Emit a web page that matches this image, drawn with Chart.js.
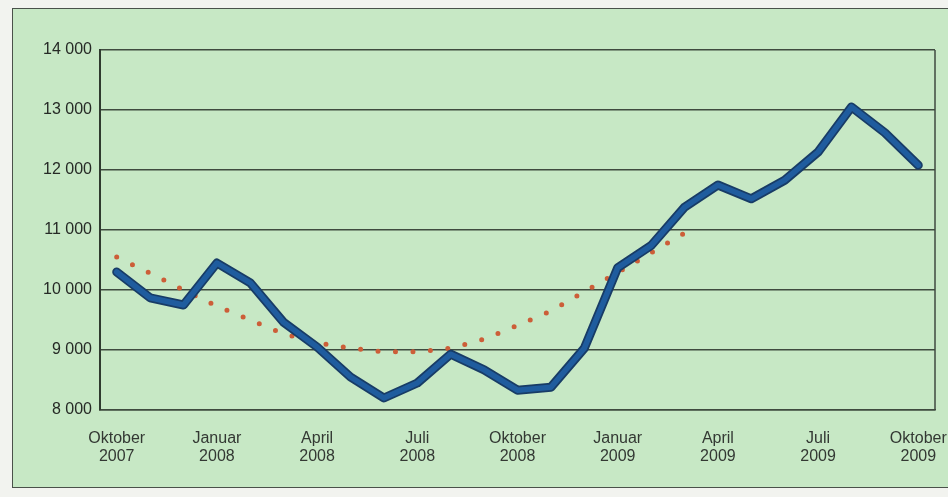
<!DOCTYPE html>
<html lang="de">
<head>
<meta charset="utf-8">
<title>Index</title>
<script src="https://cdn.jsdelivr.net/npm/chart.js@4"></script>
<style>
  html, body { margin: 0; padding: 0; width: 948px; height: 497px; overflow: hidden; background: #f2f3ef; }
  #kasten { position: absolute; left: 12px; top: 8px; width: 960px; height: 478px; background: #c7e8c5; border: 1.5px solid #4a514a; }
  #wrap { position: absolute; left: 0; top: 0; width: 948px; height: 497px; }
</style>
</head>
<body>
<div id="kasten"></div>
<div id="wrap"><canvas id="chart" width="948" height="497"></canvas></div>
<script>
// Monate Oktober 2007 bis Oktober 2009
const monate = ["Okt 07", "Nov 07", "Dez 07", "Jan 08", "Feb 08", "Mär 08", "Apr 08", "Mai 08", "Jun 08",
    "Jul 08", "Aug 08", "Sep 08", "Okt 08", "Nov 08", "Dez 08", "Jan 09", "Feb 09", "Mär 09", "Apr 09",
    "Mai 09", "Jun 09", "Jul 09", "Aug 09", "Sep 09", "Okt 09"];

const achsenLabels = [["Oktober", "2007"], ["Januar", "2008"], ["April", "2008"], ["Juli", "2008"],
    ["Oktober", "2008"], ["Januar", "2009"], ["April", "2009"], ["Juli", "2009"], ["Oktober", "2009"]];

const yTicks = [8000, 9000, 10000, 11000, 12000, 13000, 14000];

// blaue Linie
const werte = [10300, 9870, 9750, 10450, 10120, 9460, 9050, 8550, 8200, 8450, 8930, 8670, 8330,
    8380, 9030, 10370, 10740, 11380, 11750, 11520, 11830, 12300, 13050, 12620, 12080];

// rote Punktlinie
const trend = [10550, 10280, 10000, 9730, 9500, 9270, 9120, 9030, 8970, 8970, 9030, 9180, 9410,
    9650, 9970, 10290, 10620, 10950, null, null, null, null, null, null, null];

const fmt = (v) => String(v).replace(/\B(?=(\d{3})+(?!\d))/g, " ");

// rechte Rahmenlinie der Zeichenfläche
const rahmen = {
    id: "rahmen",
    beforeDatasetsDraw(c) {
        const a = c.chartArea, ctx = c.ctx;
        ctx.save();
        ctx.strokeStyle = "#3f4a3f";
        ctx.lineWidth = 1.5;
        ctx.beginPath();
        ctx.moveTo(a.right, a.top);
        ctx.lineTo(a.right, a.bottom);
        ctx.stroke();
        ctx.restore();
    },
};

new Chart(document.getElementById("chart"), {
    type: "line",
    data: {
        labels: monate,
        datasets: [
            { data: werte, borderColor: "#1f5c9e", borderWidth: 5.5, pointRadius: 0, borderJoinStyle: "round", borderCapStyle: "round", order: 1 },
            { data: werte, borderColor: "#183c66", borderWidth: 9, pointRadius: 0, borderJoinStyle: "round", borderCapStyle: "round", order: 2 },
            { data: trend, borderColor: "#cc5e38", borderWidth: 5, pointRadius: 0, borderDash: [0, 17.5], borderCapStyle: "round", spanGaps: false, order: 3 },
        ],
    },
    options: {
        responsive: false,
        animation: false,
        devicePixelRatio: 1,
        events: [],
        layout: { padding: { top: 50, right: 13, left: 0, bottom: 0 } },
        plugins: { legend: { display: false }, tooltip: { enabled: false } },
        scales: {
            x: {
                type: "category",
                offset: true,
                grid: { display: false },
                border: { display: true, color: "#3f4a3f", width: 1.5 },
                afterFit: (s) => { s.height = 87; s.paddingLeft = 0; s.paddingRight = 0; },
                ticks: {
                    autoSkip: false,
                    maxRotation: 0,
                    padding: 11,
                    color: "#333833",
                    font: { family: "Liberation Sans", size: 16, lineHeight: 1.15 },
                    callback: (v, i) => (i % 3 === 0 ? achsenLabels[i / 3] : ""),
                },
            },
            y: {
                min: 8000,
                max: 14000,
                afterFit: (s) => { s.width = 100; },
                afterBuildTicks: (s) => { s.ticks = yTicks.map((v) => ({ value: v })); },
                grid: { color: "#3f4a3f", lineWidth: 1.5, drawTicks: false },
                border: { display: true, color: "#2f3a2f", width: 2 },
                ticks: {
                    padding: 8,
                    color: "#262a26",
                    font: { family: "Liberation Sans", size: 16 },
                    callback: (v) => fmt(v),
                },
            },
        },
    },
    plugins: [rahmen],
});
</script>
</body>
</html>
